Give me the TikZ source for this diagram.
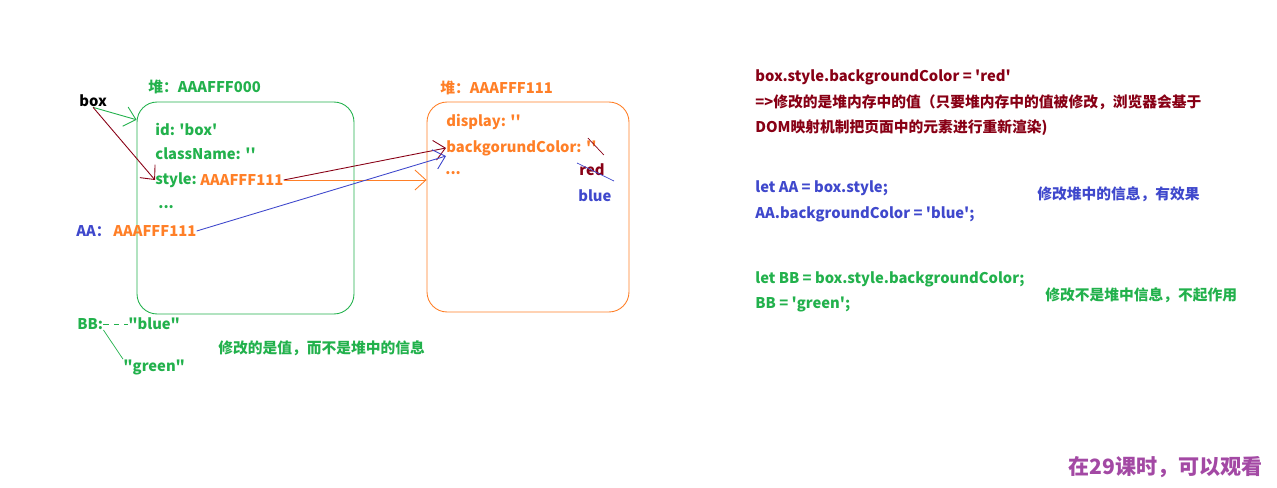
\documentclass[tikz,border=0pt]{standalone}
\usepackage{fontspec}
\setmainfont{Noto Sans CJK SC}[Ligatures=TeXOff]
\usetikzlibrary{arrows.meta}
\definecolor{pgreen}{HTML}{22B14C}
\definecolor{porange}{HTML}{FF7F27}
\definecolor{pdred}{HTML}{880015}
\definecolor{pblue}{HTML}{3F48CC}
\definecolor{ppurple}{HTML}{A349A4}
\begin{document}
\begin{tikzpicture}[
  x=0.02cm, y=-0.02cm,
  t/.style={anchor=west, inner sep=0pt, font=\fontsize{8.4}{10}\selectfont\bfseries},
  heap/.style={draw, rounded corners=0.4cm, line width=0.5pt, inner sep=0pt},
  e/.style={-{Straight Barb[length=2.2mm,width=4mm]}, line width=0.5pt}
]
\useasboundingbox (0,0) rectangle (1277,487);

% heap boxes
\node[heap, pgreen, minimum width=4.34cm, minimum height=4.24cm] (h1) at (245.5,208) {};
\node[heap, porange, minimum width=4.04cm, minimum height=4.2cm] (h2) at (528,207) {};
\node[t, pgreen] (h1l) at (148,87) {堆：AAAFFF000};
\node[t, porange] (h2l) at (440,88) {堆：AAAFFF111};

% left side
\node[t, black] (box) at (79,101) {box};
\node[t, pgreen] (id) at (155,129) {id: 'box'};
\node[t, pgreen] (cn) at (155,154) {className: ''};
\node[t, pgreen] (st) at (155,180) {style:};
\node[t, porange] (sv) at (200,180) {AAAFFF111};
\node[t, pgreen] (dots1) at (158,207) {...};
\node[t, pblue] (aa) at (76,231) {AA：};
\node[t, porange] (av) at (113,231) {AAAFFF111};

\node[t, porange] (disp) at (446,122) {display: ''};
\node[t, porange] (bg) at (446,148) {backgorundColor: ''};
\node[t, porange] (dots2) at (445,173) {...};
\node[t, pdred] (red) at (579,170) {red};
\node[t, pblue] (blue) at (578,196) {blue};

\node[t, pgreen] (bb) at (77,324) {BB:};
\node[t, pgreen] (bbv) at (128,324) {"blue"};
\node[t, pgreen] (gr) at (123,367) {"green"};
\node[t, pgreen] (note1) at (218,348) {修改的是值，而不是堆中的信息};

\draw[e, pgreen] (box.south) -- (h1.141);
\draw[e, pdred] (box.south) -- (st.west);
\draw[e, pdred] (sv.east) -- (bg.west);
\draw[e, porange] (sv.east) -- (sv.east -| h2.west);
\draw[e, pblue] (av.east) -- (bg.south west);
\draw[pdred] ([shift={(-9,-10)}]bg.east) -- ([shift={(7,7)}]bg.east);
\draw[pblue] ([shift={(-2,-7)}]red.west) -- ([shift={(35,11)}]red.west);
\draw[pgreen, dash pattern=on 3pt off 3pt] (bb.east) -- (bbv.west);
\draw[pgreen] (bb.south east) -- (gr.north west);

% right side
\node[t, pdred] (c1) at (755,77) {box.style.backgroundColor = 'red'};
\node[t, pdred] (c2) at (755,102) {=>修改的是堆内存中的值（只要堆内存中的值被修改，浏览器会基于};
\node[t, pdred] (c3) at (755,128) {DOM映射机制把页面中的元素进行重新渲染)};
\node[t, pblue] (a1) at (755,188) {let AA = box.style;};
\node[t, pblue] (a2) at (755,214) {AA.backgroundColor = 'blue';};
\node[t, pblue] (note2) at (1037,194) {修改堆中的信息，有效果};
\node[t, pgreen] (b1) at (755,279) {let BB = box.style.backgroundColor;};
\node[t, pgreen] (b2) at (755,304) {BB = 'green';};
\node[t, pgreen] (note3) at (1045,295) {修改不是堆中信息，不起作用};
\node[t, ppurple, font=\fontsize{12}{14}\selectfont\bfseries] (tip) at (1068,467) {在29课时，可以观看};
\end{tikzpicture}
\end{document}
